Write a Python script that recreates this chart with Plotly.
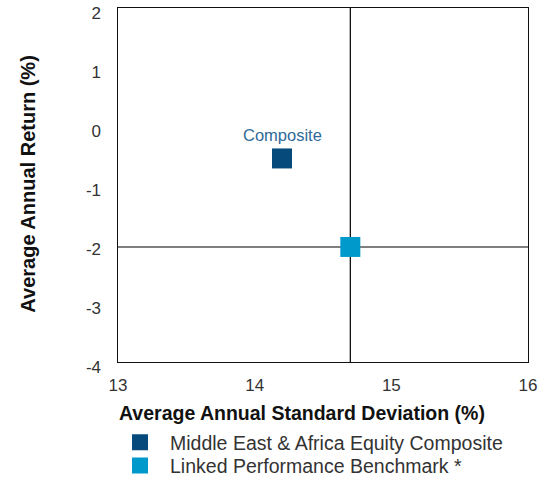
import plotly.graph_objects as go

series_names = ["Middle East & Africa Equity Composite", "Linked Performance Benchmark *"]
std_dev = [14.2, 14.7]
avg_return = [-0.55, -2.05]
colors = ["#054A7B", "#0099CC"]
x_ticks = [13, 14, 15, 16]
y_ticks = [-4, -3, -2, -1, 0, 1, 2]
y_tick_text = ["-4", "-3", "-2", "-1", "0", "1", "2"]

legend_keys = ["legend", "legend2"]
legend_top = [0.122, 0.074]

H = 359.0          # plot area height in px (top 8, bottom 367)
OFF = 5.0          # y tick labels sit this many px below their values in the reference

fig = go.Figure()
for i in range(2):
    fig.add_trace(go.Scatter(
        x=[std_dev[i]], y=[avg_return[i]], mode="markers",
        name=series_names[i], legend=legend_keys[i],
        marker=dict(symbol="square", size=20, color=colors[i], line=dict(width=0)),
        cliponaxis=False,
    ))

# invisible helper trace on the label axis so it is drawn
fig.add_trace(go.Scatter(x=[None], y=[None], yaxis="y2", showlegend=False, hoverinfo="skip"))

fig.add_annotation(x=std_dev[0], y=avg_return[0], text="Composite", showarrow=False,
                   yshift=23, font=dict(size=16.5, color="#2F6A98", family="Liberation Sans"))

# axis titles
fig.add_annotation(xref="paper", yref="paper", x=0.449, y=-0.128, xanchor="center",
                   yanchor="middle", showarrow=False,
                   text="<b>Average Annual Standard Deviation (%)</b>",
                   font=dict(size=19.5, color="#111"))
fig.add_annotation(xref="paper", yref="paper", x=-0.2195, y=0.508, xanchor="center",
                   yanchor="middle", showarrow=False, textangle=-90,
                   text="<b>Average Annual Return (%)</b>",
                   font=dict(size=20, color="#111"))

# crosshair lines through benchmark
fig.add_shape(type="line", xref="x", yref="y domain", x0=std_dev[1], x1=std_dev[1], y0=0, y1=1,
              line=dict(color="#111", width=1.3), layer="below")
fig.add_shape(type="line", xref="x domain", yref="y", x0=0, x1=1, y0=avg_return[1], y1=avg_return[1],
              line=dict(color="#555", width=1.5), layer="below")

legend_common = dict(orientation="v", xref="container", yref="container",
                     x=0.2015, xanchor="left", yanchor="top",
                     font=dict(size=19.5, color="#333"), itemsizing="trace",
                     itemwidth=50, bgcolor="rgba(0,0,0,0)")

fig.update_layout(
    width=546, height=482,
    margin=dict(l=118, r=18, t=8, b=115, autoexpand=False),
    plot_bgcolor="rgba(0,0,0,0)", paper_bgcolor="white",
    font=dict(family="Liberation Sans", color="#333"),
    showlegend=True,
    legend=dict(legend_common, y=legend_top[0]),
    legend2=dict(legend_common, y=legend_top[1]),
    xaxis=dict(range=[13, 16], tickvals=x_ticks, showgrid=False, zeroline=False,
               showline=True, mirror=True, linecolor="#111", linewidth=1.3, automargin=False,
               ticks="", tickfont=dict(size=17, color="#333"), ticklabelstandoff=7,
               ticklabeloverflow="allow"),
    yaxis=dict(range=[-4, 2], domain=[OFF / H, 1], showgrid=False, zeroline=False,
               automargin=False, showline=True, mirror=True, linecolor="#111", linewidth=1.3,
               ticks="", showticklabels=False),
    # label axis: same scale, shifted a few px down as in the reference
    yaxis2=dict(range=[-4, 2], domain=[0, 1 - OFF / H], anchor="free", position=0,
                side="left", tickvals=y_ticks, ticktext=y_tick_text, showgrid=False,
                zeroline=False, showline=False, automargin=False, ticks="",
                tickfont=dict(size=17, color="#333"), ticklabelstandoff=17,
                ticklabeloverflow="allow"),
)

fig.write_html("out.html", post_script="document.body.style.margin='0';",
               config={"displayModeBar": False})
